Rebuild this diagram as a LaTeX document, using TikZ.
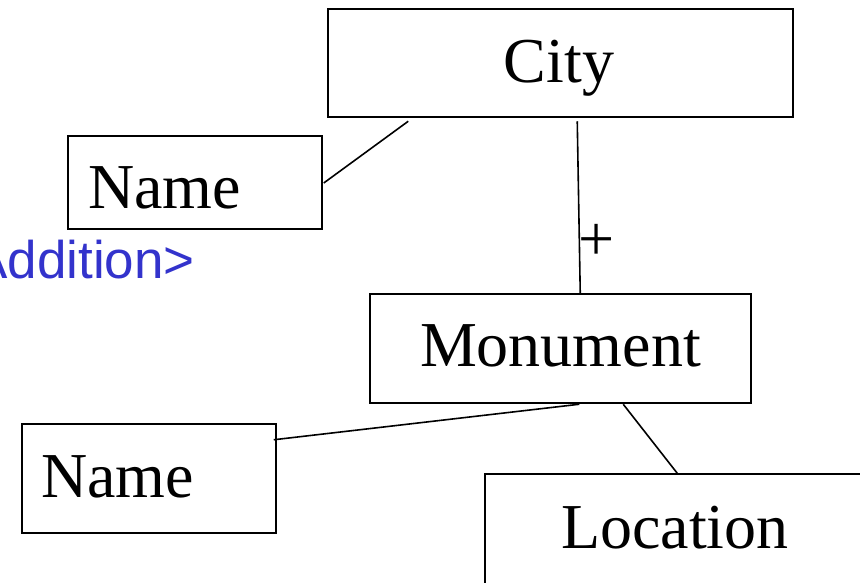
\documentclass[tikz,border=0pt]{standalone}
\usepackage{fontspec}
\setmainfont{Liberation Serif}
\newfontfamily\notefont{Liberation Sans}
\usetikzlibrary{calc}
\definecolor{noteblue}{RGB}{51,51,204}
\tikzset{
  entity/.style={draw=black, line width=1.5pt, rectangle, inner sep=0pt},
  entlabel/.style={inner sep=0pt, font=\fontsize{64}{70}\selectfont},
  link/.style={draw=black, line width=1.6pt},
  note/.style={inner sep=0pt, text=noteblue, font=\notefont\fontsize{53}{60}\selectfont}
}
\begin{document}
\begin{tikzpicture}[x=1pt,y=-1pt]
  \useasboundingbox (0,0) rectangle (860,582);
  \clip (0,0) rectangle (860,582);
  \fill[white] (0,0) rectangle (860,582);

  % entity boxes
  \node[entity, minimum width=465pt, minimum height=108pt] (city) at (560.5,63) {};
  \node[entity, minimum width=254pt, minimum height=93pt] (name1) at (195,182.5) {};
  \node[entity, minimum width=381pt, minimum height=109pt] (monument) at (560.5,348.5) {};
  \node[entity, minimum width=254pt, minimum height=109pt] (name2) at (149,478.5) {};
  \node[entity, minimum width=400pt, minimum height=140pt] (location) at (685,544) {};

  % box labels
  \node[entlabel, anchor=base] (citytext) at (559,82) {City};
  \node[entlabel, anchor=base west] (name1text) at (88,208) {Name};
  \node[entlabel, anchor=base] (monumenttext) at (560.5,366) {Monument};
  \node[entlabel, anchor=base west] (name2text) at (41,497) {Name};
  \node[entlabel, anchor=base west] (locationtext) at (561,548) {Location};

  % relationships (y grows downwards here)
  \draw[link] ($(name1.east)+(1,0.5)$) -- ($(city.south west)+(81,3.5)$);
  \draw[link] ($(city.south west)+(250,3.5)$) -- ($(monument.north west)+(211,0)$);
  \draw[link] ($(monument.south west)+(210,0.5)$) -- ($(name2.north east)+(-3,16.5)$);
  \draw[link] ($(monument.south west)+(254,0.5)$) -- ($(location.north west)+(193,0)$);

  % cardinality mark
  \node[entlabel] (plus) at (597,242) {+};

  % annotation running off the left edge
  \node[note, anchor=base east] (addition) at (195,278) {<Addition>};
\end{tikzpicture}
\end{document}
